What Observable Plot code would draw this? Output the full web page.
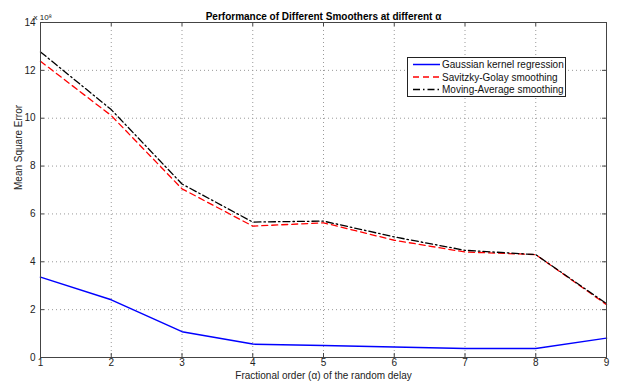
<!DOCTYPE html>
<html>
<head>
<meta charset="utf-8">
<script src="https://cdn.jsdelivr.net/npm/d3@7"></script>
<script src="https://cdn.jsdelivr.net/npm/@observablehq/plot@0.6"></script>
<style>
  html, body { margin: 0; padding: 0; background: #fff; }
  #wrap { position: relative; width: 628px; height: 385px; font-family: "Liberation Sans", Arial, sans-serif; }
  #legend { position: absolute; left: 407px; top: 57px; width: 157px; height: 38px; background: #fff; border: 1px solid #222; }
</style>
</head>
<body>
<div id="wrap"></div>
<script>
const alphas = [1, 2, 3, 4, 5, 6, 7, 8, 9];
const gaussian = [3.36, 2.41, 1.08, 0.56, 0.50, 0.44, 0.38, 0.38, 0.81];
const savitzky = [12.38, 10.11, 7.05, 5.49, 5.63, 4.90, 4.41, 4.30, 2.21];
const movingAvg = [12.77, 10.36, 7.25, 5.66, 5.70, 5.04, 4.48, 4.30, 2.25];
const seriesNames = ["Gaussian kernel regression", "Savitzky-Golay smoothing", "Moving-Average smoothing"];
const xTicks = [1, 2, 3, 4, 5, 6, 7, 8, 9];
const yTicks = [0, 2, 4, 6, 8, 10, 12, 14];
const titleText = "Performance of Different Smoothers at different \u03b1";
const xLabel = "Fractional order (\u03b1) of the random delay";
const yLabel = "Mean Square Error";
const exponentLabel = "x 10\u2078";

const colors = ["#0000ff", "#ff0000", "#000000"];
const dashes = [null, "6,4", "7,3,1.5,3"];
const series = [gaussian, savitzky, movingAvg];

const rows = series.flatMap((vals, i) => alphas.map((a, j) => ({series: seriesNames[i], x: a, y: vals[j]})));

const W = 628, H = 385, mt = 22, mr = 22, mb = 28, ml = 40;
const ph = H - mt - mb, pw = W - ml - mr;
const tl = 4;

const lineMarks = series.map((vals, i) =>
  Plot.line(rows.filter(r => r.series === seriesNames[i]), {
    x: "x", y: "y", stroke: colors[i], strokeWidth: i === 0 ? 1.5 : 1.3,
    strokeDasharray: dashes[i] || undefined
  })
);

const chart = Plot.plot({
  width: W, height: H,
  marginTop: mt, marginRight: mr, marginBottom: mb, marginLeft: ml,
  style: {fontFamily: "'Liberation Sans', Arial, sans-serif", fontSize: "10px", color: "#222", background: "#fff"},
  x: {domain: [1, 9], ticks: xTicks, tickFormat: d => String(d)},
  y: {domain: [0, 14], ticks: yTicks, tickFormat: d => String(d)},
  marks: [
    Plot.ruleX(xTicks.slice(1, -1), {stroke: "#999", strokeDasharray: "1,3", strokeWidth: 1}),
    Plot.ruleY(yTicks.slice(1, -1), {stroke: "#999", strokeDasharray: "1,3", strokeWidth: 1}),
    ...lineMarks,
    Plot.ruleX(xTicks, {stroke: "#444", insetTop: ph - tl}),
    Plot.ruleX(xTicks, {stroke: "#444", insetBottom: ph - tl}),
    Plot.ruleY(yTicks, {stroke: "#444", insetRight: pw - tl}),
    Plot.ruleY(yTicks, {stroke: "#444", insetLeft: pw - tl}),
    Plot.frame({stroke: "#444"}),
    Plot.axisX({tickSize: 0, tickPadding: 1, label: null, fontSize: 10, fill: "#222"}),
    Plot.axisY({tickSize: 0, tickPadding: 5, label: null, fontSize: 10, fill: "#222"}),
    Plot.text([titleText], {frameAnchor: "top", dy: -10, fontWeight: "bold", fontSize: 10, fill: "#000"}),
    Plot.text([exponentLabel], {frameAnchor: "top-left", dx: -7, dy: -8, textAnchor: "start", fontSize: 8, fill: "#222"}),
    Plot.text([xLabel], {frameAnchor: "bottom", dy: 21, fontSize: 10, fill: "#222"}),
    Plot.text([yLabel], {frameAnchor: "left", dx: -22, rotate: -90, fontSize: 10, fill: "#222"})
  ]
});

const wrap = document.getElementById("wrap");
wrap.appendChild(chart);

// Legend
const leg = document.createElement("div");
leg.id = "legend";
const ns = "http://www.w3.org/2000/svg";
const lsvg = document.createElementNS(ns, "svg");
lsvg.setAttribute("width", 157);
lsvg.setAttribute("height", 38);
const rowY = [6.5, 19, 31.5];
seriesNames.forEach((name, i) => {
  const ln = document.createElementNS(ns, "line");
  ln.setAttribute("x1", 5); ln.setAttribute("x2", 32);
  ln.setAttribute("y1", rowY[i]); ln.setAttribute("y2", rowY[i]);
  ln.setAttribute("stroke", colors[i]);
  ln.setAttribute("stroke-width", i === 0 ? 1.5 : 1.3);
  if (dashes[i]) ln.setAttribute("stroke-dasharray", dashes[i]);
  lsvg.appendChild(ln);
  const tx = document.createElementNS(ns, "text");
  tx.setAttribute("x", 34); tx.setAttribute("y", rowY[i]);
  tx.setAttribute("dy", "0.35em");
  tx.setAttribute("font-size", "10px");
  tx.setAttribute("font-family", "'Liberation Sans', Arial, sans-serif");
  tx.setAttribute("fill", "#111");
  tx.textContent = name;
  lsvg.appendChild(tx);
});
leg.appendChild(lsvg);
wrap.appendChild(leg);
</script>
</body>
</html>
